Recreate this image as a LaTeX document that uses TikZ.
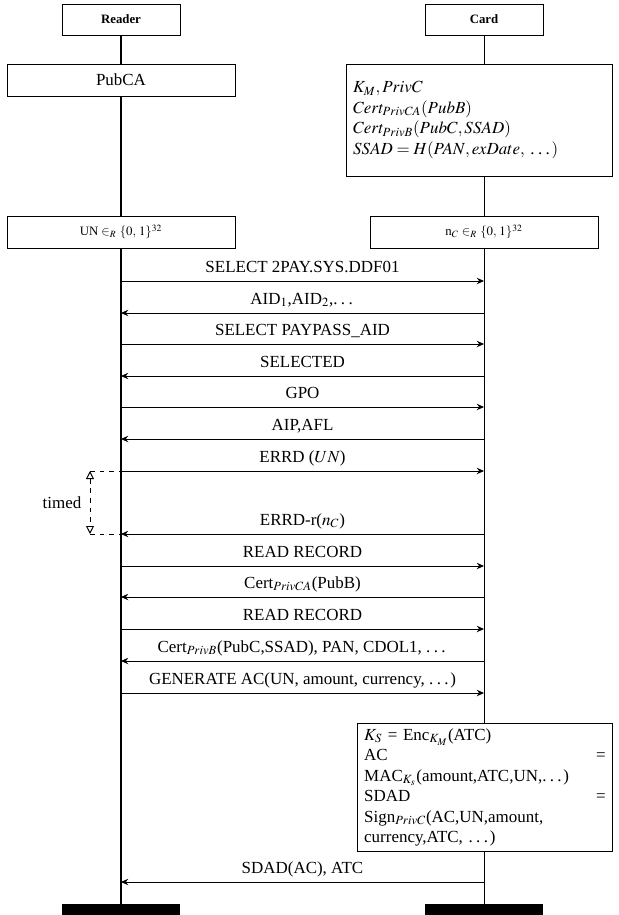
\documentclass[tikz,border=0pt]{standalone}
\usepackage{mathptmx}
\usepackage{fontspec}
\setmainfont{Liberation Serif}
\usepackage{tikz}
\usetikzlibrary{arrows.meta,backgrounds}
\newcommand{\etcdots}{.\kern.2em.\kern.2em.\kern.1em}
\tikzset{
  actor/.style={draw,line width=0.6pt,fill=white,font=\footnotesize\bfseries,minimum width=73.75pt,minimum height=19.4pt,inner sep=2pt},
  box/.style={draw,line width=0.6pt,fill=white,minimum width=142.5pt,minimum height=20pt,inner sep=2pt},
  rnd/.style={box,font=\footnotesize},
  infobox/.style={draw,line width=0.6pt,fill=white,align=left,inner xsep=4pt,inner ysep=3pt},
  endbar/.style={fill=black,minimum width=73.75pt,minimum height=6.9pt,inner sep=0pt},
  lifeline/.style={line width=1pt},
  msg/.style={-{Stealth[length=4.5pt,width=4pt]},line width=0.6pt},
  msgl/.style={anchor=base,yshift=5.6pt,inner sep=0pt},
  timedline/.style={dashed,line width=0.6pt},
}

\begin{document}
\fontsize{10.6pt}{12.8pt}\selectfont
\begin{tikzpicture}[x=0.625pt,y=-0.625pt]
  \useasboundingbox (0,0) rectangle (619,915);

  % instances
  \node[actor] (reader) at (121,19.5) {Reader};
  \node[actor] (card) at (484,19.5) {Card};
  \node[box] (pubca) at (121,80) {PubCA};
  \node[infobox,text width=158pt,minimum height=70pt] (cardkeys) at (479.5,120)
    {$K_M, PrivC$\\
     $Cert_{PrivCA}(PubB)$\\
     $Cert_{PrivB}(PubC, SSAD)$\\
     $SSAD = H(PAN, exDate,$ \etcdots$)$};
  \node[rnd] (rnun) at (121,232) {UN $\in_R$ $\{0,\,1\}^{32}$};
  \node[rnd] (rnnc) at (484,232) {n$_C$ $\in_R$ $\{0,\,1\}^{32}$};
  \node[infobox,text width=151pt,minimum height=78pt] (cardmac) at (485,787.5)
    {$K_S$ = Enc$_{K_M}$(ATC)\\
     AC\hfill=\\
     MAC$_{K_s}$(amount,ATC,UN,\etcdots)\\
     SDAD\hfill=\\
     Sign$_{PrivC}$(AC,UN,amount,\\
     currency,ATC, \etcdots)};
  \node[endbar] (rbar) at (121,909.5) {};
  \node[endbar] (cbar) at (484,909.5) {};

  \begin{scope}[on background layer]
    \draw[lifeline] (reader) -- (rbar);
    \draw[lifeline,line width=0.6pt] (card) -- (cbar);
  \end{scope}

  \foreach \n/\y in {1/281,2/313,3/344,4/376,5/407,6/439,7/471,8/534,9/566,10/597,11/629,12/661,13/693,14/882}{
    \coordinate (r\n) at (121,\y);
    \coordinate (c\n) at (484,\y);
  }

  % messages
  \draw[msg] (r1) -- node[msgl]{SELECT 2PAY.SYS.DDF01} (c1);
  \draw[msg] (c2) -- node[msgl]{AID$_1$,AID$_2$,\etcdots} (r2);
  \draw[msg] (r3) -- node[msgl]{SELECT PAYPASS\_AID} (c3);
  \draw[msg] (c4) -- node[msgl]{SELECTED} (r4);
  \draw[msg] (r5) -- node[msgl]{GPO} (c5);
  \draw[msg] (c6) -- node[msgl]{AIP,AFL} (r6);
  \draw[msg] (r7) -- node[msgl]{ERRD ($UN$)} (c7);
  \draw[msg] (c8) -- node[msgl]{ERRD-r($n_C$)} (r8);
  \draw[msg] (r9) -- node[msgl]{READ RECORD} (c9);
  \draw[msg] (c10) -- node[msgl]{Cert$_{PrivCA}$(PubB)} (r10);
  \draw[msg] (r11) -- node[msgl]{READ RECORD} (c11);
  \draw[msg] (c12) -- node[msgl]{Cert$_{PrivB}$(PubC,SSAD), PAN, CDOL1, \etcdots} (r12);
  \draw[msg] (r13) -- node[msgl]{GENERATE AC(UN, amount, currency, \etcdots)} (c13);
  \draw[msg] (c14) -- node[msgl]{SDAD(AC), ATC} (r14);

  % timer
  \coordinate (t1) at (90,471);
  \coordinate (t2) at (90,534);
  \draw[timedline] (t1) -- (r7);
  \draw[timedline] (t2) -- (r8);
  \draw[timedline,{Triangle[open,length=5pt,width=5pt]}-{Triangle[open,length=5pt,width=5pt]}] (t1) -- (t2);
  \node (timed) at (62,503) {timed};
\end{tikzpicture}
\end{document}
